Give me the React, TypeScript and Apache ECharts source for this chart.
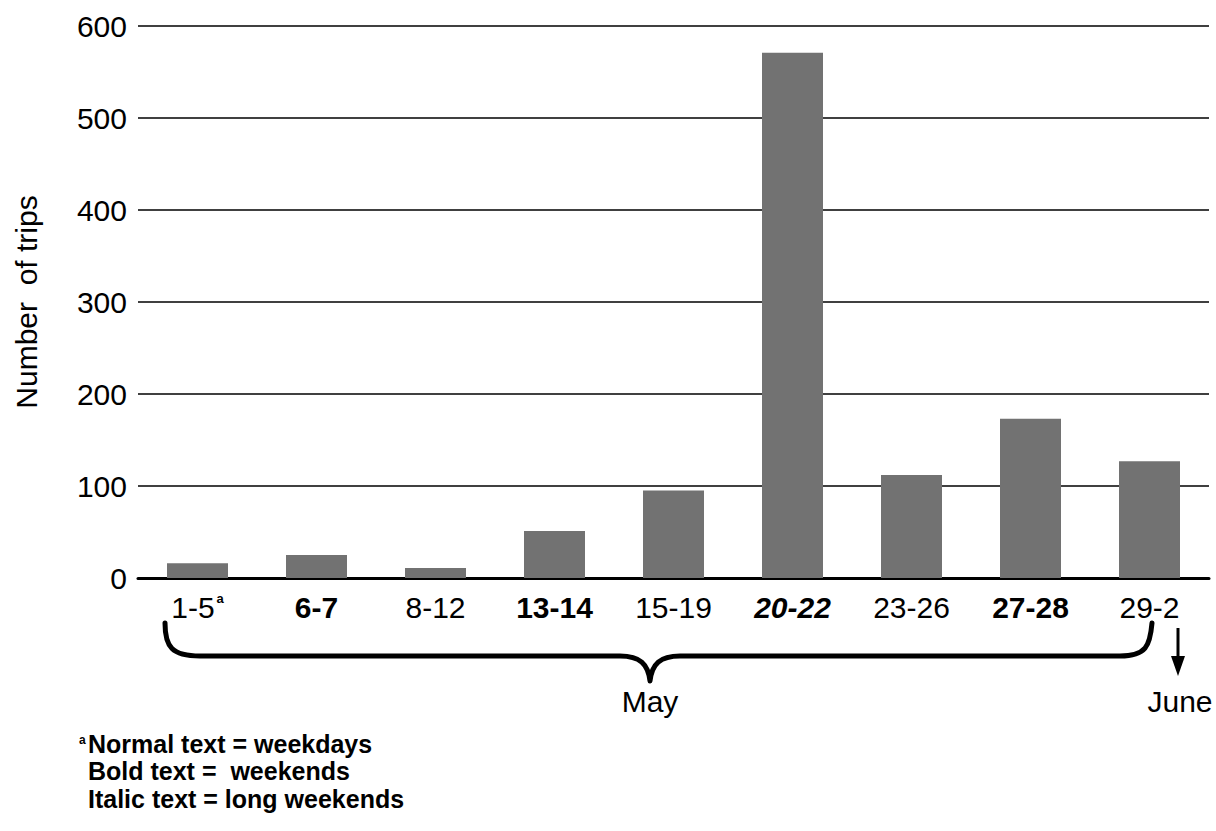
import React, { useEffect, useRef } from "react";
import * as echarts from "echarts";

const categories = ["1-5", "6-7", "8-12", "13-14", "15-19", "20-22", "23-26", "27-28", "29-2"];
const tripCounts = [16, 25, 11, 51, 95, 571, 112, 173, 127];
// n = weekdays (normal), b = weekends (bold), i = long weekends (italic)
const labelStyles = ["n", "b", "n", "b", "n", "i", "n", "b", "n"];
const footnoteMarkedLabel = "1-5";
const yTicks = { min: 0, max: 600, interval: 100 };
const yAxisTitle = "Number  of trips";
const monthLabels = ["May", "June"];
const footnoteLines = ["Normal text = weekdays", "Bold text =  weekends", "Italic text = long weekends"];

const FONT = "'Liberation Sans', Arial, Helvetica, sans-serif";
const FS = 30;

const bracePath =
  "M165,623 C165,647 172,656 200,656 L620,656 C640,656 648,664 650,681 C652,664 660,656 680,656 L1120,656 C1146,656 1150,646 1152,623";

let registered = false;
function registerShapes() {
  if (registered) return;
  echarts.graphic.registerShape("brace", echarts.graphic.extendPath(bracePath, {}) as any);
  registered = true;
}

export default function App() {
  const ref = useRef<HTMLDivElement>(null);

  useEffect(() => {
    if (!ref.current) return;
    registerShapes();
    const chart = echarts.init(ref.current, undefined, { renderer: "svg" });

    const option: any = {
      animation: false,
      backgroundColor: "#ffffff",
      grid: { left: 138, right: 7, top: 26, bottom: 253 },
      xAxis: {
        type: "category",
        data: categories,
        axisLine: { show: true, lineStyle: { color: "#000", width: 3 } },
        axisTick: { show: false },
        axisLabel: {
          margin: 14,
          interval: 0,
          color: "#000",
          fontFamily: FONT,
          fontSize: FS,
          formatter: (v: string, i: number) => {
            const s = labelStyles[i];
            if (v === footnoteMarkedLabel) return `{${s}|${v}}{sup|a}`;
            return `{${s}|${v}}`;
          },
          rich: {
            n: { fontFamily: FONT, fontSize: FS, fontWeight: "normal", color: "#000" },
            b: { fontFamily: FONT, fontSize: FS, fontWeight: "bold", color: "#000" },
            i: { fontFamily: FONT, fontSize: FS, fontWeight: "bold", fontStyle: "italic", color: "#000" },
            sup: { fontFamily: FONT, fontSize: 13, fontWeight: "bold", color: "#000", verticalAlign: "top", padding: [0, 0, 15, 2] },
          },
        },
      },
      yAxis: {
        type: "value",
        min: yTicks.min,
        max: yTicks.max,
        interval: yTicks.interval,
        name: yAxisTitle,
        nameLocation: "middle",
        nameGap: 97,
        nameRotate: 90,
        nameTextStyle: { fontFamily: FONT, fontSize: FS, color: "#000" },
        axisLine: { show: false },
        axisTick: { show: false },
        axisLabel: { margin: 11, color: "#000", fontFamily: FONT, fontSize: FS },
        splitLine: { show: true, lineStyle: { color: "#000", width: 1.6 } },
      },
      series: [
        {
          type: "bar",
          data: tripCounts,
          barWidth: 61,
          itemStyle: { color: "#727272" },
        },
      ],
      graphic: [
        {
          type: "brace",
          x: 0,
          y: 0,
          style: { fill: "none", stroke: "#000", lineWidth: 5, lineCap: "round", lineJoin: "round" },
        },
        {
          type: "line",
          shape: { x1: 1178, y1: 628, x2: 1178, y2: 660 },
          style: { stroke: "#000", lineWidth: 3 },
        },
        {
          type: "polygon",
          shape: { points: [[1171, 656], [1185, 656], [1178, 676]] },
          style: { fill: "#000" },
        },
        {
          type: "text",
          x: 650,
          y: 701,
          style: { text: monthLabels[0], font: `${FS}px ${FONT}`, fill: "#000", align: "center", verticalAlign: "middle" },
        },
        {
          type: "text",
          x: 1180,
          y: 701,
          style: { text: monthLabels[1], font: `${FS}px ${FONT}`, fill: "#000", align: "center", verticalAlign: "middle" },
        },
        {
          type: "text",
          x: 79,
          y: 734,
          style: { text: "a", font: `bold 12px ${FONT}`, fill: "#000", align: "left", verticalAlign: "top" },
        },
        {
          type: "text",
          x: 88,
          y: 730,
          style: {
            text: footnoteLines.join("\n"),
            font: `bold 25px ${FONT}`,
            lineHeight: 27.5,
            fill: "#000",
            align: "left",
            verticalAlign: "top",
          },
        },
      ],
    };

    chart.setOption(option);
    return () => chart.dispose();
  }, []);

  return (
    <div
      ref={ref}
      style={{ position: "fixed", left: 0, top: 0, width: 1216, height: 831, background: "#fff" }}
    />
  );
}
